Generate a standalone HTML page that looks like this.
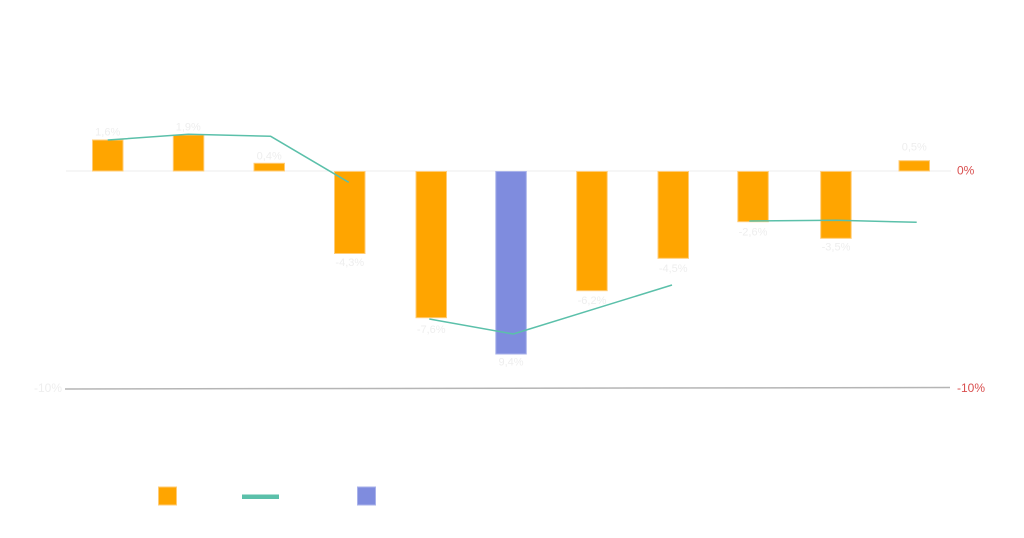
<!DOCTYPE html>
<html><head><meta charset="utf-8"><style>
html,body{margin:0;padding:0;background:#fff;}
svg{display:block;}
text{font-family:"Liberation Sans",sans-serif;}
</style></head><body>
<svg width="1024" height="538" viewBox="0 0 1024 538" xmlns="http://www.w3.org/2000/svg">
<rect width="1024" height="538" fill="#fff"/>
<!-- zero line -->
<line x1="66" y1="171" x2="951" y2="171" stroke="#eeeeee" stroke-width="1"/>
<!-- -10% line -->
<line x1="65" y1="389" x2="950" y2="387.5" stroke="#b5b5b5" stroke-width="1.5"/>
<text x="62" y="392" font-size="12" fill="#eeeeee" text-anchor="end">-10%</text>
<text x="957" y="174.5" font-size="12" fill="#d94f4f">0%</text>
<text x="957" y="392" font-size="12" fill="#d94f4f">-10%</text>
<!-- bars -->
<g stroke-width="1">
<rect x="92.5" y="140" width="30.5" height="31" fill="#FFA500" stroke="#FFCC77"/>
<rect x="173.3" y="135" width="30.5" height="36" fill="#FFA500" stroke="#FFCC77"/>
<rect x="254" y="163.3" width="30.5" height="7.7" fill="#FFA500" stroke="#FFCC77"/>
<rect x="334.5" y="171.5" width="30.5" height="82" fill="#FFA500" stroke="#FFCC77"/>
<rect x="416" y="171.5" width="30.5" height="146.2" fill="#FFA500" stroke="#FFCC77"/>
<rect x="495.8" y="171.5" width="30.5" height="182.5" fill="#7F8CDE" stroke="#A9B2EA"/>
<rect x="576.7" y="171.5" width="30.5" height="119.2" fill="#FFA500" stroke="#FFCC77"/>
<rect x="658" y="171.5" width="30.5" height="86.8" fill="#FFA500" stroke="#FFCC77"/>
<rect x="737.8" y="171.5" width="30.5" height="50.2" fill="#FFA500" stroke="#FFCC77"/>
<rect x="820.7" y="171.5" width="30.5" height="66.8" fill="#FFA500" stroke="#FFCC77"/>
<rect x="899" y="160.7" width="30.5" height="10.3" fill="#FFA500" stroke="#FFCC77"/>
</g>
<!-- line series -->
<g fill="none" stroke="#5BC0AA" stroke-width="1.5" stroke-linejoin="round">
<polyline points="107.7,140 188.3,134.3 270.7,136.3 348.7,182.3"/>
<polyline points="429.3,319 513.3,334 672,285"/>
<polyline points="749.3,221 836,220.3 916.7,222.3"/>
</g>
<!-- data labels -->
<g font-size="11" fill="#eeeeee" text-anchor="middle">
<text x="107.7" y="135.5">1,6%</text>
<text x="188.3" y="130.5">1,9%</text>
<text x="269.2" y="159.5">0,4%</text>
<text x="349.8" y="266">-4,3%</text>
<text x="431.2" y="333">-7,6%</text>
<text x="511" y="365.5">9,4%</text>
<text x="592" y="304">-6,2%</text>
<text x="673.2" y="272">-4,5%</text>
<text x="753" y="235.5">-2,6%</text>
<text x="836" y="250.5">-3,5%</text>
<text x="914.3" y="150.5">0,5%</text>
</g>
<!-- legend -->
<rect x="158.5" y="487" width="18" height="18" fill="#FFA500" stroke="#FFCC77" stroke-width="1"/>
<rect x="242" y="494.5" width="37" height="4.5" fill="#5BC0AA"/>
<rect x="357.5" y="487" width="18" height="18" fill="#7F8CDE" stroke="#A9B2EA" stroke-width="1"/>
</svg>
</body></html>
